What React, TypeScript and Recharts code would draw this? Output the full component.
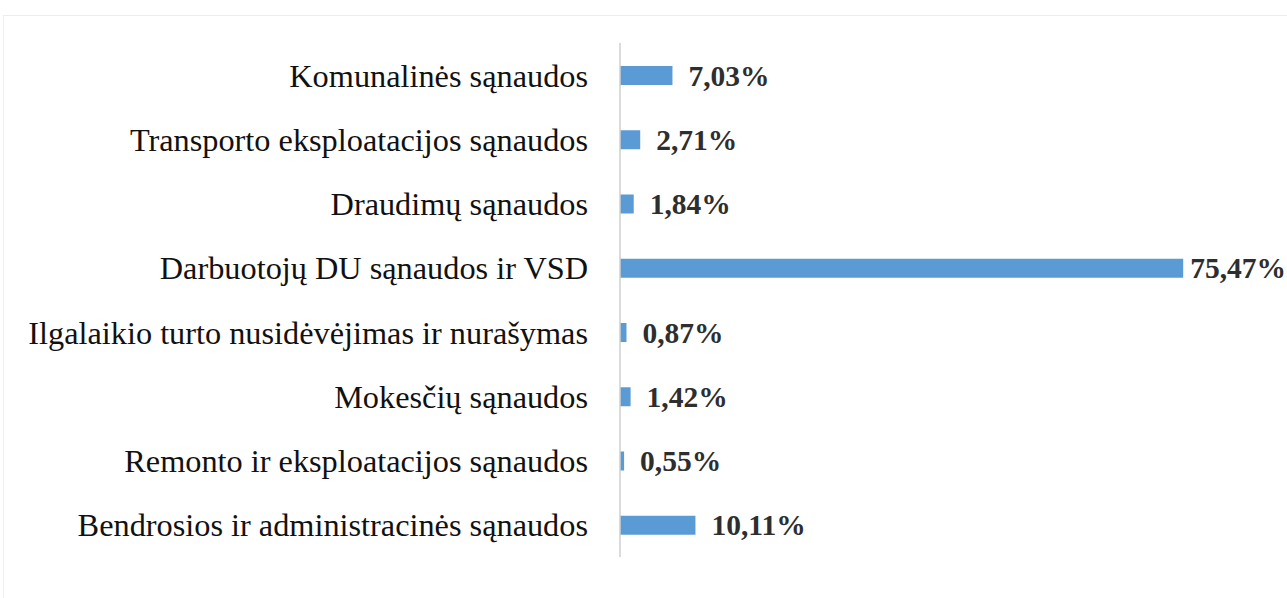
import React from "react";
import { BarChart, Bar, XAxis, YAxis, LabelList } from "recharts";

const categories = [
  "Komunalinės sąnaudos",
  "Transporto eksploatacijos sąnaudos",
  "Draudimų sąnaudos",
  "Darbuotojų DU sąnaudos ir VSD",
  "Ilgalaikio turto nusidėvėjimas ir nurašymas",
  "Mokesčių sąnaudos",
  "Remonto ir eksploatacijos sąnaudos",
  "Bendrosios ir administracinės sąnaudos",
];
const values = [7.03, 2.71, 1.84, 75.47, 0.87, 1.42, 0.55, 10.11];
const valueLabels = ["7,03%", "2,71%", "1,84%", "75,47%", "0,87%", "1,42%", "0,55%", "10,11%"];

const data = categories.map((name, i) => ({ name, value: values[i], label: valueLabels[i] }));

const W = 1287;
const H = 598;

const ValueLabel = (props: any) => {
  const { x, y, width, height, value } = props;
  const textW = String(value).length * 15.5;
  let tx = x + width + 16;
  if (tx + textW > W - 2) tx = x + width + 7;
  return (
    <text
      x={tx}
      y={y + height / 2}
      dominantBaseline="central"
      fontFamily="'Liberation Serif', 'Times New Roman', serif"
      fontWeight="bold"
      fontSize={29.5}
      fill="#2e2e2e"
    >
      {value}
    </text>
  );
};

export default function App() {
  return (
    <div style={{ position: "fixed", left: 0, top: 0, width: W, height: H, background: "#fff" }}>
      <div
        style={{
          position: "absolute",
          left: 3,
          top: 15,
          right: 0,
          bottom: 0,
          borderTop: "1px solid #ececec",
          borderLeft: "1px solid #f0f0f0",
        }}
      />
      <div style={{ position: "absolute", left: 0, top: 0 }}>
        <BarChart
          width={W}
          height={H}
          data={data}
          layout="vertical"
          margin={{ top: 43, right: 70, bottom: 41, left: 0 }}
          barSize={19}
        >
          <XAxis type="number" domain={[0, 80]} hide />
          <YAxis
            type="category"
            dataKey="name"
            width={620}
            tickLine={false}
            tickSize={0}
            tickMargin={32}
            axisLine={{ stroke: "#cfcfcf", strokeWidth: 1.5 }}
            tick={{
              fontFamily: "'Liberation Serif', 'Times New Roman', serif",
              fontSize: 32.3,
              fill: "#111",
            }}
            interval={0}
          />
          <Bar dataKey="value" fill="#5b9bd5" isAnimationActive={false}>
            <LabelList dataKey="label" content={<ValueLabel />} />
          </Bar>
        </BarChart>
      </div>
    </div>
  );
}
